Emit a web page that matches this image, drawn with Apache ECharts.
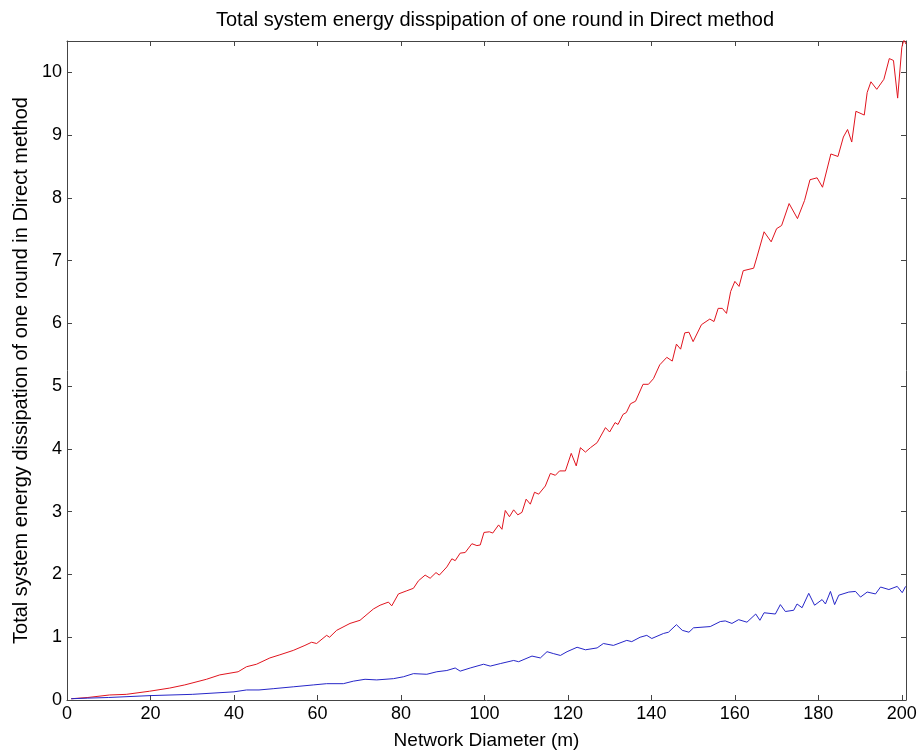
<!DOCTYPE html>
<html>
<head>
<meta charset="utf-8">
<script src="https://cdn.jsdelivr.net/npm/echarts@6/dist/echarts.min.js"></script>
<style>html,body{margin:0;padding:0;background:#fff}#c{width:921px;height:755px}</style>
</head>
<body>
<div id="c"></div>
<script>
const titleText = "Total system energy disspipation of one round in Direct method";
const xAxisName = "Network Diameter (m)";
const yAxisName = "Total system energy dissipation of one round in Direct method";

const redX = [1,5,10.2,14.2,19.8,24.6,28.2,33.4,36.6,41,43,45.4,48.6,51,54.2,57,58.6,59.8,62.2,62.9,64.6,67.8,70.2,73.4,75,77,77.8,79.4,81.4,83,84.2,85.8,87,88.4,89.2,91,92.2,93,94.2,95.4,97,98.2,99,99.9,101.2,102,103.4,104.2,105,106,107,108,109,110,111,112,113,114.6,115.8,117,118,119.4,120.8,122,123,124.2,125.4,127,129,130,131.3,132,133.2,134,135,136.2,138,139.3,140.5,142,143.7,145,146,147,148,149,150,152,154,155,156,157,158,159,160,161,162,164.5,165.3,167,168.7,170,171.2,173,175,176.7,178,179.7,181,183,184.7,186,187,188,189,191,191.7,192.6,194,195.7,197,198,199,200,200.5,201];
const redY = [0.02,0.04,0.08,0.09,0.14,0.19,0.24,0.33,0.40,0.45,0.53,0.57,0.67,0.72,0.79,0.87,0.92,0.90,1.03,1.00,1.11,1.22,1.27,1.45,1.51,1.56,1.50,1.69,1.74,1.78,1.90,1.99,1.94,2.03,1.99,2.12,2.25,2.22,2.34,2.35,2.49,2.46,2.47,2.67,2.68,2.66,2.79,2.72,3.02,2.92,3.03,2.95,2.99,3.20,3.12,3.31,3.28,3.41,3.61,3.58,3.65,3.65,3.93,3.73,4.02,3.95,4.02,4.10,4.34,4.27,4.42,4.39,4.55,4.58,4.72,4.76,5.03,5.03,5.12,5.34,5.46,5.40,5.67,5.59,5.85,5.86,5.71,5.98,6.07,6.03,6.24,6.24,6.16,6.51,6.67,6.59,6.84,6.88,7.06,7.46,7.30,7.51,7.56,7.91,7.67,7.96,8.29,8.32,8.17,8.70,8.66,8.97,9.09,8.89,9.38,9.32,9.68,9.85,9.73,9.89,10.22,10.19,9.59,10.4,10.52,10.45];

const blueX = [1,5,10,20,30,40,43,46,49.4,54.2,59,62.2,66.2,68.6,71.4,74.2,78.2,80.6,83,86.2,88.6,91,93,94.2,96.6,99.8,101.4,103.8,107,108.2,111.4,113.4,115,116.5,118.2,119.8,122.2,124.2,127,128.5,130.9,134.1,135.3,137.3,138.9,140.1,142.9,144.1,146,147.4,149,150.1,154.1,156.5,157.7,159.3,160.9,162.9,165,166,167,169.7,170.9,172.1,174.1,174.9,176.1,177.7,179.1,180.9,181.7,182.9,183.9,184.9,187.3,188.9,190.1,191.7,193.7,194.9,196.9,198.9,200.1,200.9];
const blueY = [0.02,0.03,0.04,0.07,0.09,0.13,0.16,0.16,0.18,0.21,0.24,0.26,0.26,0.30,0.33,0.32,0.34,0.37,0.42,0.41,0.45,0.47,0.51,0.46,0.51,0.57,0.54,0.58,0.63,0.61,0.70,0.67,0.77,0.74,0.71,0.77,0.84,0.80,0.83,0.90,0.87,0.95,0.93,1.00,1.03,0.98,1.06,1.08,1.20,1.11,1.08,1.15,1.17,1.25,1.26,1.22,1.28,1.24,1.37,1.27,1.39,1.37,1.52,1.41,1.43,1.53,1.47,1.70,1.51,1.60,1.53,1.73,1.52,1.67,1.72,1.73,1.64,1.72,1.69,1.80,1.76,1.81,1.71,1.81];

const xMin = 0, xMax = 201, xStep = 20;
const yMin = 0, yMax = 10.5, yStep = 1;

const FONT = "Liberation Sans";
const axisColor = "#444";

function zip(xs, ys) { return xs.map((x, i) => [x, ys[i]]); }

const chart = echarts.init(document.getElementById('c'), null, {renderer: 'canvas'});
const baseX = {
  type: 'value', min: xMin, max: xMax, interval: xStep,
  axisLine: {show: true, onZero: false, lineStyle: {color: axisColor, width: 1}},
  axisTick: {show: true, inside: true, length: 5, lineStyle: {color: axisColor}},
  splitLine: {show: false}
};
const baseY = {
  type: 'value', min: yMin, max: yMax, interval: yStep,
  axisLine: {show: true, onZero: false, lineStyle: {color: axisColor, width: 1}},
  axisTick: {show: true, inside: true, length: 5, lineStyle: {color: axisColor}},
  splitLine: {show: false}
};
chart.setOption({
  animation: false,
  backgroundColor: '#fff',
  title: {
    text: titleText, left: 211, top: 5,
    textStyle: {fontFamily: FONT, fontSize: 20, fontWeight: 'normal', color: '#000'}
  },
  grid: {left: 67, right: 15, top: 41, bottom: 53, containLabel: false},
  xAxis: [
    Object.assign({}, baseX, {
      position: 'bottom',
      name: xAxisName, nameLocation: 'middle', nameGap: 31,
      nameTextStyle: {fontFamily: FONT, fontSize: 19, color: '#000'},
      axisLabel: {show: true, fontFamily: FONT, fontSize: 18, color: '#000', margin: 5, showMaxLabel: false}
    }),
    Object.assign({}, baseX, {position: 'top', axisLabel: {show: false}})
  ],
  yAxis: [
    Object.assign({}, baseY, {
      position: 'left',
      name: yAxisName, nameLocation: 'middle', nameGap: 35,
      nameTextStyle: {fontFamily: FONT, fontSize: 20, color: '#000'},
      axisLabel: {show: true, fontFamily: FONT, fontSize: 18, color: '#000', margin: 5, showMaxLabel: false}
    }),
    Object.assign({}, baseY, {position: 'right', axisLabel: {show: false}})
  ],
  series: [
    {type: 'line', name: 'red', xAxisIndex: 0, yAxisIndex: 0, data: zip(redX, redY),
     showSymbol: false, symbol: 'none', lineStyle: {color: '#e0141e', width: 1}, clip: true},
    {type: 'line', name: 'blue', xAxisIndex: 0, yAxisIndex: 0, data: zip(blueX, blueY),
     showSymbol: false, symbol: 'none', lineStyle: {color: '#2626c8', width: 1}, clip: true}
  ]
});
</script>
</body>
</html>
